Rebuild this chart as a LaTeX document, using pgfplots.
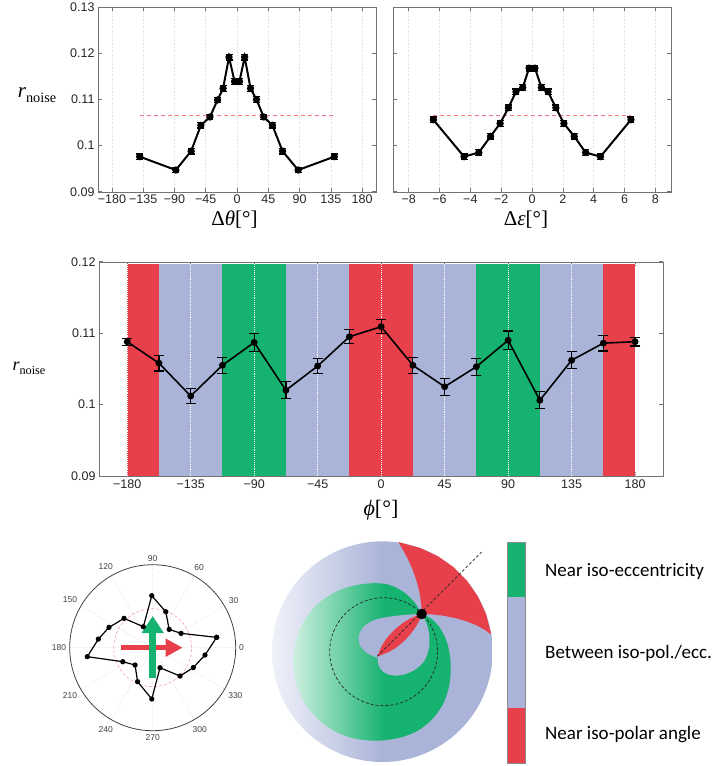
\documentclass[border=0pt]{standalone}
\usepackage{fontspec}
\setmainfont{Liberation Serif}
\setsansfont{Liberation Sans}
\newfontfamily\calib{Carlito}
\usepackage{pgfplots}
\pgfplotsset{compat=1.18}
\usepgfplotslibrary{polar}
\usetikzlibrary{arrows.meta}

\definecolor{lav}{RGB}{170,180,216}
\definecolor{grn}{RGB}{22,178,112}
\definecolor{rd}{RGB}{232,64,74}
\definecolor{pinkdash}{RGB}{240,118,130}
\definecolor{lavlight}{RGB}{240,242,249}
\definecolor{grnlight}{RGB}{205,240,224}
\pgfdeclarehorizontalshading{discshade}{100bp}{color(0bp)=(lavlight); color(25bp)=(lavlight); color(50bp)=(lav); color(100bp)=(lav)}
\pgfdeclarehorizontalshading{grnshade}{100bp}{color(0bp)=(grnlight); color(25bp)=(grnlight); color(54bp)=(grn); color(100bp)=(grn)}

\newcommand{\rnoise}[1]{{\fontsize{#1}{#1}\selectfont\itshape r}{\fontsize{0.68\dimexpr #1pt\relax}{10}\selectfont\raisebox{-0.3em}{noise}}}

\pgfplotsset{
  mystyle/.style={scale only axis, anchor=north west, tick align=inside,
    major tick length=4pt, axis line style={black!55},
    tick style={black!55, line width=0.6pt},
    tick label style={font=\sffamily\fontsize{12.5}{14}\selectfont, text=black!85}},
  dat/.style={black, line width=2pt, mark=*, mark size=2.6pt, mark options={solid},
    error bars/.cd, y dir=both, y explicit,
    error bar style={line width=1.3pt, black},
    error mark options={rotate=90, mark size=3.5pt, line width=1.3pt, black}},
  datm/.style={black, line width=1.6pt, mark=*, mark size=2.6pt, mark options={solid},
    error bars/.cd, y dir=both, y explicit,
    error bar style={line width=1.2pt, black},
    error mark options={rotate=90, mark size=5pt, line width=1.2pt, black}}
}

\begin{document}
\begin{tikzpicture}
\useasboundingbox (0pt,0pt) rectangle (716pt,-766pt);

% ---------- top left ----------
\begin{axis}[mystyle, at={(98pt,-7.3pt)}, width=278pt, height=184.4pt,
  xmin=-200, xmax=200, ymin=0.09, ymax=0.13,
  xtick={-180,-135,-90,-45,0,45,90,135,180},
  xticklabels={−180,−135,−90,−45,0,45,90,135,180},
  ytick={0.09,0.1,0.11,0.12,0.13}, yticklabels={0.09,0.1,0.11,0.12,0.13},
  xmajorgrids, grid style={dotted, black!15, line width=0.5pt}]
\addplot[pinkdash, dash pattern=on 4pt off 3pt, line width=1pt] coordinates {(-140,0.1065) (140,0.1065)};
\addplot[dat] table[x=x, y=y, y error=e] {
x y e
-140 0.0976 0.0006
-88 0.0947 0.0006
-66 0.0988 0.0006
-52 0.1044 0.0006
-39 0.1062 0.0006
-28 0.1099 0.0006
-20 0.1124 0.0006
-11.5 0.1192 0.0006
-3.5 0.1139 0.0006
3.5 0.1139 0.0006
11 0.1192 0.0006
19.5 0.1124 0.0006
28 0.1100 0.0006
38.5 0.1062 0.0006
51 0.1044 0.0006
65.5 0.0988 0.0006
88 0.0947 0.0006
140 0.0976 0.0006
};
\end{axis}

% ---------- top right ----------
\begin{axis}[mystyle, at={(393.3pt,-7.3pt)}, width=277.4pt, height=184.4pt,
  xmin=-9, xmax=9, ymin=0.09, ymax=0.13,
  xtick={-8,-6,-4,-2,0,2,4,6,8},
  xticklabels={−8,−6,−4,−2,0,2,4,6,8},
  ytick={0.09,0.1,0.11,0.12,0.13}, yticklabels={},
  xmajorgrids, grid style={dotted, black!15, line width=0.5pt}]
\addplot[pinkdash, dash pattern=on 4pt off 3pt, line width=1pt] coordinates {(-6.4,0.1065) (6.4,0.1065)};
\addplot[dat] table[x=x, y=y, y error=e] {
x y e
-6.4 0.1056 0.0006
-4.41 0.0976 0.0006
-3.45 0.0985 0.0006
-2.69 0.1020 0.0006
-2.07 0.1048 0.0006
-1.53 0.1082 0.0006
-1.04 0.1117 0.0006
-0.6 0.1126 0.0006
-0.19 0.1168 0.0006
0.19 0.1168 0.0006
0.61 0.1126 0.0006
1.04 0.1117 0.0006
1.55 0.1082 0.0006
2.07 0.1048 0.0006
2.74 0.1020 0.0006
3.48 0.0985 0.0006
4.44 0.0976 0.0006
6.42 0.1056 0.0006
};
\end{axis}

\node at (37pt,-95pt) {\rnoise{21}};
\node at (234.5pt,-220pt) {\fontsize{21}{23}\selectfont Δ\textit{θ}[°]};
\node at (526pt,-220pt) {\fontsize{21}{23}\selectfont Δ\textit{ε}[°]};

% ---------- middle ----------
\begin{axis}[mystyle, at={(99pt,-261.7pt)}, width=564.3pt, height=214.3pt,
  xmin=-200, xmax=200, ymin=0.09, ymax=0.12,
  xtick={-180,-135,-90,-45,0,45,90,135,180},
  xticklabels={−180,−135,−90,−45,0,45,90,135,180},
  ytick={0.09,0.1,0.11,0.12}, yticklabels={0.09,0.1,0.11,0.12}]
\addplot[fill=rd, draw=none] coordinates {(-180,0.09) (-180,0.1197) (-157.5,0.1197) (-157.5,0.09)} -- cycle;
\addplot[fill=lav, draw=none] coordinates {(-157.5,0.09) (-157.5,0.1197) (-112.5,0.1197) (-112.5,0.09)} -- cycle;
\addplot[fill=grn, draw=none] coordinates {(-112.5,0.09) (-112.5,0.1197) (-67.5,0.1197) (-67.5,0.09)} -- cycle;
\addplot[fill=lav, draw=none] coordinates {(-67.5,0.09) (-67.5,0.1197) (-22.5,0.1197) (-22.5,0.09)} -- cycle;
\addplot[fill=rd, draw=none] coordinates {(-22.5,0.09) (-22.5,0.1197) (22.5,0.1197) (22.5,0.09)} -- cycle;
\addplot[fill=lav, draw=none] coordinates {(22.5,0.09) (22.5,0.1197) (67.5,0.1197) (67.5,0.09)} -- cycle;
\addplot[fill=grn, draw=none] coordinates {(67.5,0.09) (67.5,0.1197) (112.5,0.1197) (112.5,0.09)} -- cycle;
\addplot[fill=lav, draw=none] coordinates {(112.5,0.09) (112.5,0.1197) (157.5,0.1197) (157.5,0.09)} -- cycle;
\addplot[fill=rd, draw=none] coordinates {(157.5,0.09) (157.5,0.1197) (180,0.1197) (180,0.09)} -- cycle;
\pgfplotsinvokeforeach{-180,-135,-90,-45,0,45,90,135,180}{
  \addplot[white, densely dotted, line width=0.9pt] coordinates {(#1,0.09) (#1,0.1197)};
}
\addplot[datm] table[x=x, y=y, y error=e] {
x y e
-180 0.1088 0.0005
-157.5 0.1058 0.0011
-135 0.1012 0.0011
-112.5 0.1055 0.0011
-90 0.1087 0.0013
-67.5 0.1020 0.0012
-45 0.1054 0.0011
-22.5 0.1095 0.0010
0 0.1109 0.0010
22.5 0.1055 0.0011
45 0.1025 0.0012
67.5 0.1053 0.0012
90 0.1090 0.0013
112.5 0.1006 0.0012
135 0.1062 0.0012
157.5 0.1086 0.0011
180 0.1088 0.0006
};
\end{axis}
\node at (29pt,-368pt) {\rnoise{18}};
\node at (381pt,-510pt) {\fontsize{22}{24}\selectfont \textit{ϕ}[°]};

% ---------- polar ----------
\begin{polaraxis}[at={(152.7pt,-647.7pt)}, anchor=center, scale only axis,
  width=166pt, height=166pt, ymin=0, ymax=83, ytick=\empty,
  xtick={0,30,60,90,120,150,180,210,240,270,300,330},
  xticklabels={0,30,60,90,120,150,180,210,240,270,300,330},
  xticklabel style={font=\sffamily\fontsize{8.5}{10}\selectfont, text=black!75},
  xmajorgrids, ymajorgrids=false, grid style={dotted, black!30, line width=0.5pt},
  major tick length=0pt, axis line style={black!75, line width=0.8pt},
  y axis line style={draw=none}]
\addplot[pinkdash!70, densely dashed, line width=0.6pt] coordinates {
(0,39) (10,39) (20,39) (30,39) (40,39) (50,39) (60,39) (70,39) (80,39) (90,39)
(100,39) (110,39) (120,39) (130,39) (140,39) (150,39) (160,39) (170,39) (180,39)
(190,39) (200,39) (210,39) (220,39) (230,39) (240,39) (250,39) (260,39) (270,39)
(280,39) (290,39) (300,39) (310,39) (320,39) (330,39) (340,39) (350,39) (360,39)};
\addplot[black, line width=1.2pt, mark=*, mark size=2pt] coordinates {
(9.2,64.8) (26.8,31.8) (48,24.6) (70,38.3) (91,52) (114,23) (134.3,41)
(155,48.2) (171,55) (187.8,66) (205,33.1) (224.5,24.7) (246,37.2) (269,51.3)
(290,21.3) (314,39.4) (334,45.2) (352,52.8) (369.2,64.8)};
\draw[rd, line width=5pt, -{Triangle[length=17pt, width=17pt]}] (axis cs:180,32) -- (axis cs:0,30);
\draw[grn, line width=7pt, -{Triangle[length=17pt, width=21pt]}] (axis cs:270,30.7) -- (axis cs:90,31.7);
\end{polaraxis}

% ---------- schematic + legend bar ----------
\begin{axis}[at={(270pt,-538pt)}, anchor=north west, scale only axis,
  width=446pt, height=228pt, xmin=0, xmax=1338, ymin=0, ymax=684,
  y dir=reverse, hide axis, clip=false]
\shade[shading=discshade] (axis cs:337,341) circle [radius=331];
\addplot[draw=none, shade, shading=grnshade, smooth, tension=0.55] coordinates {
(455,228) (435,195) (405,165) (370,145) (341,137) (300,136) (250,143) (200,160)
(155,188) (118,225) (90,272) (74,325) (70,380) (80,440) (105,495) (145,545)
(195,580) (255,602) (320,608) (385,600) (440,580) (485,545) (518,500) (536,450)
(542,400) (540,355) (530,310) (510,270) (485,243) (455,228)} -- cycle;
\addplot[draw=none, fill=lav, smooth, tension=0.55] coordinates {
(455,228) (430,229) (400,231) (365,235) (330,241) (300,252) (278,270) (266,295)
(270,322) (288,343) (310,355) (322,360) (325,380) (338,400) (365,412) (400,410)
(435,395) (462,370) (476,335) (478,295) (470,258) (455,228)} -- cycle;
\addplot[draw=none, fill=rd, smooth, tension=0.5] coordinates {
(322,355) (334.7,324.9) (351.6,299.1) (373.3,275.6) (395,257.7) (420.8,241.4) (440.1,232.6) (455,228)
(449.7,242.8) (440.2,261.6) (422.6,286.7) (403.7,307.4) (379.2,328.1) (352.4,343.7) (322,355)} -- cycle;
\addplot[draw=none, fill=rd] coordinates {
(455,228) (454,200) (449,165) (440,130) (428,95) (413,62) (398,34) (385,12)
(450,30) (502.5,54) (549.8,87) (590.6,128) (623.7,175.5) (648,228) (664,290)
(645,276) (620,262) (590,250) (555,240) (520,233) (485,229) (455,228)} -- cycle;
\draw[densely dashed, line width=0.7pt, black!85] (axis cs:341,341) circle [radius=162];
\addplot[black!85, densely dashed, line width=0.7pt] coordinates {(322,355) (635,42)};
\addplot[only marks, mark=*, mark size=5pt, black] coordinates {(455,228)};
% legend bar
\addplot[fill=grn, draw=none] coordinates {(712,14) (765,14) (765,176) (712,176)} -- cycle;
\addplot[fill=lav, draw=none] coordinates {(712,176) (765,176) (765,511) (712,511)} -- cycle;
\addplot[fill=rd, draw=none] coordinates {(712,511) (765,511) (765,676) (712,676)} -- cycle;
\addplot[draw=black!45, line width=0.4pt] coordinates {(712,14) (765,14) (765,676) (712,676)} -- cycle;
\node[anchor=west, font=\calib\fontsize{19}{22}\selectfont] at (axis cs:815,101) {Near iso-eccentricity};
\node[anchor=west, font=\calib\fontsize{19}{22}\selectfont] at (axis cs:815,345) {Between iso-pol./ecc.};
\node[anchor=west, font=\calib\fontsize{19}{22}\selectfont] at (axis cs:815,591) {Near iso-polar angle};
\end{axis}
\end{tikzpicture}
\end{document}
